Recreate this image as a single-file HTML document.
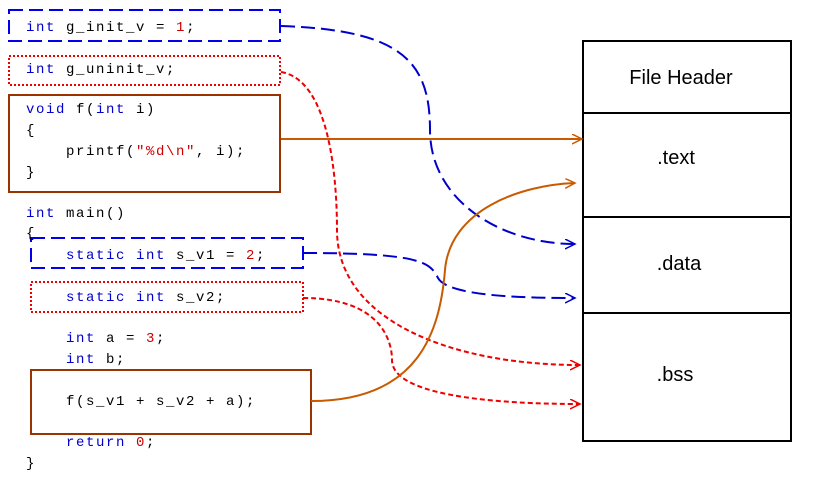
<!DOCTYPE html>
<html><head><style>body{margin:0;background:#fff}svg{display:block}
.c{font-family:"Liberation Mono",monospace;font-size:14px;letter-spacing:1.6px;fill:#000}
.k{fill:#0000cc}.n{fill:#cc0000}
.h{font-family:"Liberation Sans",sans-serif;font-size:20px;fill:#000}
</style></head><body>
<svg width="819" height="477" viewBox="0 0 819 477">
<defs>
<marker id="ab" markerWidth="12" markerHeight="12" refX="10" refY="5" orient="auto" markerUnits="userSpaceOnUse"><path d="M0,0 L10,5 L0,10" fill="none" stroke="#0000cc" stroke-width="1.5"/></marker>
<marker id="ar" markerWidth="12" markerHeight="12" refX="10" refY="5" orient="auto" markerUnits="userSpaceOnUse"><path d="M0,0 L10,5 L0,10" fill="none" stroke="#ee0000" stroke-width="1.5"/></marker>
<marker id="ao" markerWidth="12" markerHeight="12" refX="10" refY="5" orient="auto" markerUnits="userSpaceOnUse"><path d="M0,0 L10,5 L0,10" fill="none" stroke="#c85a00" stroke-width="1.5"/></marker>
</defs>
<rect x="9" y="10" width="271" height="31" fill="none" stroke="#0000ee" stroke-width="2" stroke-dasharray="14,6"/>
<rect x="9" y="56" width="271" height="29" fill="none" stroke="#ee0000" stroke-width="2" stroke-dasharray="2,2"/>
<rect x="9" y="95" width="271" height="97" fill="none" stroke="#993300" stroke-width="2"/>
<rect x="31" y="238" width="272" height="30" fill="none" stroke="#0000ee" stroke-width="2" stroke-dasharray="14,6"/>
<rect x="31" y="282" width="272" height="30" fill="none" stroke="#ee0000" stroke-width="2" stroke-dasharray="2,2"/>
<rect x="31" y="370" width="280" height="64" fill="none" stroke="#993300" stroke-width="2"/>
<text class="c" x="26" y="31"><tspan class="k">int</tspan> g_init_v = <tspan class="n">1</tspan>;</text>
<text class="c" x="26" y="73"><tspan class="k">int</tspan> g_uninit_v;</text>
<text class="c" x="26" y="113"><tspan class="k">void</tspan> f(<tspan class="k">int</tspan> i)</text>
<text class="c" x="26" y="134">{</text>
<text class="c" x="66" y="155">printf(<tspan class="n">"%d\n"</tspan>, i);</text>
<text class="c" x="26" y="176">}</text>
<text class="c" x="26" y="217"><tspan class="k">int</tspan> main()</text>
<text class="c" x="26" y="237">{</text>
<text class="c" x="66" y="259"><tspan class="k">static int</tspan> s_v1 = <tspan class="n">2</tspan>;</text>
<text class="c" x="66" y="301"><tspan class="k">static int</tspan> s_v2;</text>
<text class="c" x="66" y="342"><tspan class="k">int</tspan> a = <tspan class="n">3</tspan>;</text>
<text class="c" x="66" y="363"><tspan class="k">int</tspan> b;</text>
<text class="c" x="66" y="405">f(s_v1 + s_v2 + a);</text>
<text class="c" x="66" y="446"><tspan class="k">return</tspan> <tspan class="n">0</tspan>;</text>
<text class="c" x="26" y="467">}</text>
<rect x="583" y="41" width="208" height="400" fill="#fff" stroke="#000" stroke-width="2"/>
<line x1="583" y1="113" x2="791" y2="113" stroke="#000" stroke-width="2"/>
<line x1="583" y1="217" x2="791" y2="217" stroke="#000" stroke-width="2"/>
<line x1="583" y1="313" x2="791" y2="313" stroke="#000" stroke-width="2"/>
<text class="h" x="681" y="84" text-anchor="middle">File Header</text>
<text class="h" x="676" y="164" text-anchor="middle">.text</text>
<text class="h" x="679" y="270" text-anchor="middle">.data</text>
<text class="h" x="675" y="381" text-anchor="middle">.bss</text>
<path d="M281,26 C400,30 430,60 430,130 C430,200 500,244 575,244" fill="none" stroke="#0000cc" stroke-width="2" stroke-dasharray="14,6" marker-end="url(#ab)"/>
<path d="M281,72 C330,80 337,180 337,230 C337,320 450,365 580,365" fill="none" stroke="#ee0000" stroke-width="2" stroke-dasharray="5,3" marker-end="url(#ar)"/>
<path d="M281,139 L582,139" fill="none" stroke="#c85a00" stroke-width="2" marker-end="url(#ao)"/>
<path d="M303,253 C420,253 430,262 438,278 C448,296 520,298 575,298" fill="none" stroke="#0000cc" stroke-width="2" stroke-dasharray="14,6" marker-end="url(#ab)"/>
<path d="M303,298 C380,298 392,340 392,360 C392,400 520,404 580,404" fill="none" stroke="#ee0000" stroke-width="2" stroke-dasharray="5,3" marker-end="url(#ar)"/>
<path d="M311,401 C420,401 440,330 445,270 C450,210 520,185 575,183" fill="none" stroke="#c85a00" stroke-width="2" marker-end="url(#ao)"/>
</svg>
</body></html>
